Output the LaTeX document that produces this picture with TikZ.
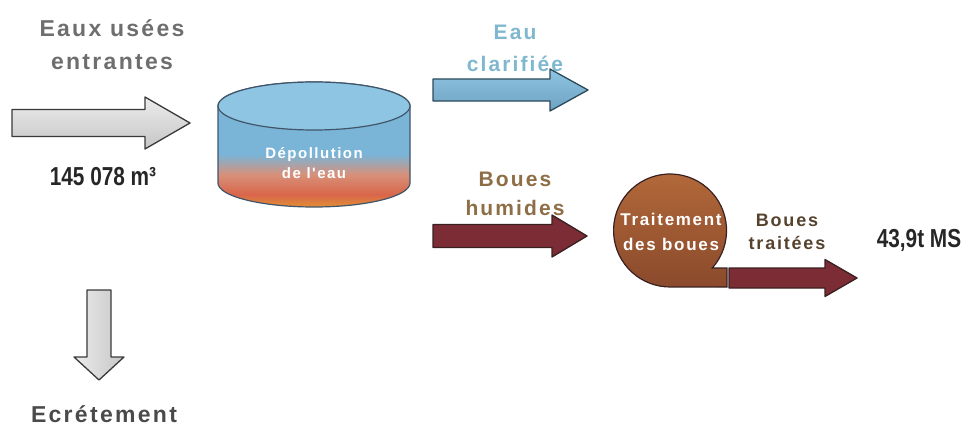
\documentclass[tikz,border=0pt]{standalone}
\usepackage{fontspec}
\setmainfont{Liberation Sans}
\newfontfamily\espace[LetterSpace=10]{Liberation Sans}
\newfontfamily\etroit[FakeStretch=0.8]{Liberation Sans}

\definecolor{gristexte}{HTML}{6E6E6E}
\definecolor{gristexte2}{HTML}{4A4A4A}
\definecolor{noirtexte}{HTML}{262626}
\definecolor{bleutexte}{HTML}{7FB7CF}
\definecolor{bruntexte}{HTML}{8E6E46}
\definecolor{brunfonce}{HTML}{56432F}
\definecolor{gristrait}{HTML}{3A3A3A}
\definecolor{bleutrait}{HTML}{2D4A5A}
\definecolor{rougetrait}{HTML}{3A2022}
\definecolor{rougebord}{HTML}{7C2C34}
\definecolor{rougemilieu}{HTML}{A2444C}
\definecolor{cuvetrait}{HTML}{40556A}
\definecolor{cuvehaut}{HTML}{8EC5E2}
\definecolor{cuvebleu}{HTML}{7AB4D6}
\definecolor{cuvesaumon}{HTML}{D8907A}
\definecolor{cuverouge}{HTML}{D8664A}
\definecolor{cuveorange}{HTML}{E0883A}
\definecolor{bouehaut}{HTML}{B46A3A}
\definecolor{bouebas}{HTML}{8A4A2C}

\pgfdeclareverticalshading{cuve}{100bp}{color(0bp)=(cuveorange); color(26bp)=(cuveorange); color(30bp)=(cuverouge); color(38bp)=(cuvesaumon); color(46bp)=(cuvebleu); color(75bp)=(cuvebleu); color(100bp)=(cuvebleu)}

\tikzset{
  titre/.style 2 args={font=\espace\bfseries\fontsize{#1}{#2}\selectfont, align=center, inner sep=0pt},
  chiffre/.style={font=\etroit\bfseries\fontsize{26}{30}\selectfont, text=noirtexte, inner sep=0pt},
  flechegrise/.style={draw=gristrait, line width=1.3pt, line join=round, top color=gray!15, middle color=gray!22, bottom color=gray!45},
  flechebleue/.style={draw=bleutrait, line width=1.3pt, line join=round, top color=cuvehaut, bottom color=cuvebleu!90!black},
  flecherouge/.style={draw=rougetrait, line width=1.3pt, line join=round, top color=rougebord, middle color=rougemilieu, bottom color=rougebord}
}

% fleche horizontale : style, depart, debut pointe, pointe, y, demi-corps, demi-pointe
\newcommand{\flecheh}[7]{\draw[#1] (#2,#5-#6) -- (#3,#5-#6) -- (#3,#5-#7) -- (#4,#5) -- (#3,#5+#7) -- (#3,#5+#6) -- (#2,#5+#6) -- cycle;}

\begin{document}
\begin{tikzpicture}[x=1pt, y=-1pt]
  \useasboundingbox (0,0) rectangle (967,428);

  % entree
  \node[titre={23}{33}, text=gristexte] (entrantes) at (112,45) {Eaux usées\\entrantes};
  \flecheh{flechegrise}{12}{145}{190}{123}{13.5}{26}
  \node[chiffre] (volume) at (103,177) {145 078 m³};

  % ecretement
  \draw[flechegrise, shading angle=90] (87,290) -- (111,290) -- (111,357) -- (124,357) -- (99,380) -- (74,357) -- (87,357) -- cycle;
  \node[titre={23}{28}, text=gristexte2] (ecretement) at (104,414) {Ecrétement};

  % cuve
  \shadedraw[shading=cuve, draw=cuvetrait, line width=1.2pt] (218,106) -- (218,183) arc[start angle=180, end angle=0, x radius=96, y radius=24] -- (410,106) arc[start angle=0, end angle=-180, x radius=96, y radius=24] -- cycle;
  \draw[fill=cuvehaut, draw=cuvetrait, line width=1.2pt] (314,106) ellipse[x radius=96, y radius=24];
  \node[titre={15}{20}, text=white] (depollution) at (314,163) {Dépollution\\de l'eau};

  % eau clarifiee
  \node[titre={21}{32}, text=bleutexte] (clarifiee) at (515,48) {Eau\\clarifiée};
  \flecheh{flechebleue}{433}{550}{588}{90}{11}{21}

  % boues
  \node[titre={21}{29}, text=bruntexte] (humides) at (515,194) {Boues\\humides};
  \flecheh{flecherouge}{433}{552}{587}{236}{11.5}{21}

  \shadedraw[top color=bouehaut, bottom color=bouebas, draw=rougetrait, line width=1.2pt] (712.3,268) arc[start angle=41.6, end angle=-270, radius=56.5] -- (727,287) -- (727,268) -- cycle;
  \node[titre={17}{25}, text=white] (traitement) at (671,232) {Traitement\\des boues};

  \node[titre={18}{23}, text=brunfonce] (traitees) at (787,232) {Boues\\traitées};
  \flecheh{flecherouge}{729}{825}{857}{278}{10}{18.5}
  \node[chiffre] (ms) at (919,240) {43,9t MS};
\end{tikzpicture}
\end{document}
